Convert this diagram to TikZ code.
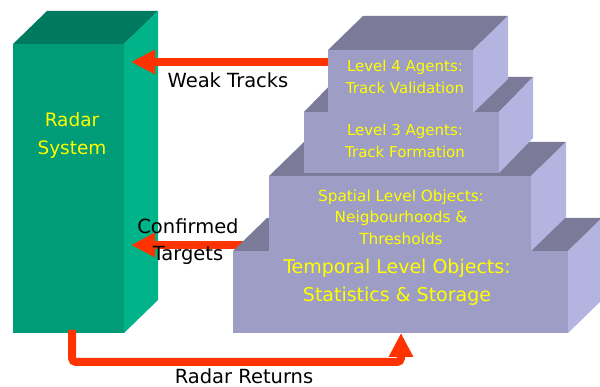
\documentclass[tikz,border=0pt]{standalone}
\usepackage{fontspec}
\setmainfont{DejaVu Sans}
\usetikzlibrary{arrows.meta}
\definecolor{gfront}{HTML}{009B77}
\definecolor{gtop}{HTML}{007A5E}
\definecolor{gside}{HTML}{00B388}
\definecolor{lfront}{HTML}{9D9DC6}
\definecolor{ltop}{HTML}{7B7B99}
\definecolor{lside}{HTML}{B4B4E0}
\definecolor{redarrow}{HTML}{FF3300}
\definecolor{ytext}{HTML}{FFFF00}
\tikzset{
  flow/.style={draw=redarrow, line width=8pt, -{Triangle[length=24pt,width=23pt]}},
  blab/.style={font=\fontsize{19.5}{27}\selectfont, align=center, inner sep=0pt},
  ylab/.style={text=ytext, align=center, inner sep=0pt},
}
\newcommand{\prism}[7]{% x1,y1,x2,y2 front; dx,dy depth; color prefix
  \fill[#7top] (#1,#2) -- ++(#5,-#6) -- (#3+#5,#2-#6) -- (#3,#2) -- cycle;
  \fill[#7side] (#3,#2) -- (#3+#5,#2-#6) -- (#3+#5,#4-#6) -- (#3,#4) -- cycle;
  \fill[#7front] (#1,#2) rectangle (#3,#4);
}
\begin{document}
\begin{tikzpicture}[x=1pt,y=-1pt]
\useasboundingbox (0,0) rectangle (600,387);
\fill[white] (0,0) rectangle (600,387);
% Radar prism
\prism{13}{44}{124}{333}{34}{33}{g}
% coordinates for connectors
\coordinate (radarW) at (131,62);
\coordinate (radarC) at (131,245);
\coordinate (radarB) at (72,330);
\coordinate (tempB) at (401,333);
\coordinate (l4L) at (330,62);
\coordinate (tempL) at (250,245);
% connectors
\draw[flow, rounded corners=4pt] (radarB) -- (72,362) -- (401,362) -- (tempB);
\draw[flow] (tempL) -- (radarC);
\draw[flow] (l4L) -- (radarW);
% Pyramid
\prism{233}{251}{568}{333}{34}{33}{l}
\prism{269}{176}{531}{251}{35}{34}{l}
\prism{304}{112}{499}{173}{34}{35}{l}
\prism{328}{50}{473}{113}{35}{34}{l}
% labels
\node[ylab, font=\fontsize{18.5}{28}\selectfont] (radar) at (72,135) {Radar\\System};
\node[ylab, font=\fontsize{15}{22}\selectfont] (l4) at (405,77) {Level 4 Agents:\\Track Validation};
\node[ylab, font=\fontsize{15}{22}\selectfont] (l3) at (405,141) {Level 3 Agents:\\Track Formation};
\node[ylab, font=\fontsize{15.3}{21.5}\selectfont] (sp) at (401,217) {Spatial Level Objects:\\Neigbourhoods \&\\Thresholds};
\node[ylab, font=\fontsize{19}{28}\selectfont] (tp) at (397,282) {Temporal Level Objects:\\Statistics \& Storage};
\node[blab] (wt) at (228,80) {Weak Tracks};
\node[blab] (ct) at (188,242) {Confirmed\\Targets};
\node[blab] (rr) at (244,376) {Radar Returns};
\end{tikzpicture}
\end{document}
